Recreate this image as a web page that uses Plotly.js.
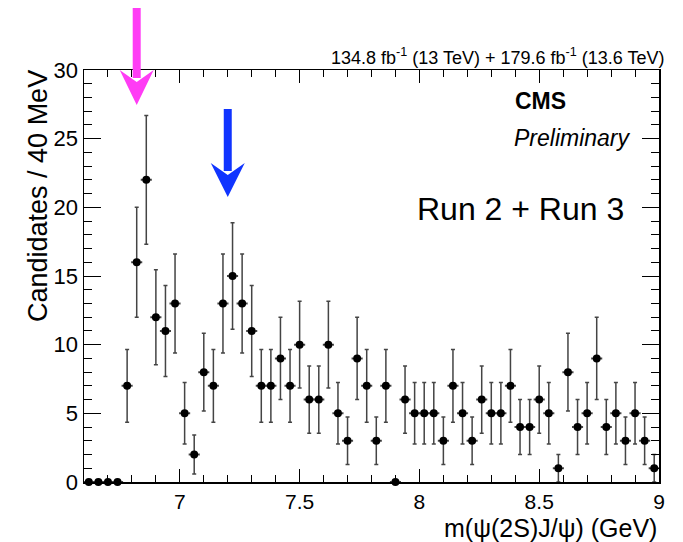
<!DOCTYPE html>
<html>
<head>
<meta charset="utf-8">
<script src="https://cdn.plot.ly/plotly-3.0.1.min.js"></script>
<style>html,body{margin:0;padding:0;background:#fff;}#chart{width:683px;height:542px;}</style>
</head>
<body>
<div id="chart"></div>
<script>
// Bin centres (GeV), 40 MeV bins from 6.60 to 9.00
var massBins = [6.62,6.66,6.70,6.74,6.78,6.82,6.86,6.90,6.94,6.98,
                7.02,7.06,7.10,7.14,7.18,7.22,7.26,7.30,7.34,7.38,
                7.42,7.46,7.50,7.54,7.58,7.62,7.66,7.70,7.74,7.78,
                7.82,7.86,7.90,7.94,7.98,8.02,8.06,8.10,8.14,8.18,
                8.22,8.26,8.30,8.34,8.38,8.42,8.46,8.50,8.54,8.58,
                8.62,8.66,8.70,8.74,8.78,8.82,8.86,8.90,8.94,8.98];
// Candidates per bin
var candidates = [0,0,0,0,7,16,22,12,11,13,
                  5,2,8,7,13,15,13,11,7,7,
                  9,7,10,6,6,10,5,3,9,7,
                  3,7,0,6,5,5,5,3,7,5,
                  3,6,5,5,7,4,4,6,5,1,
                  8,4,5,9,4,5,3,5,3,1];
var binHalfWidth = 0.02;
var xTickVals = [7, 7.5, 8, 8.5, 9];
var xTickText = ["7", "7.5", "8", "8.5", "9"];
var yTickVals = [0, 5, 10, 15, 20, 25, 30];
var yTickText = ["0", "5", "10", "15", "20", "25", "30"];
var arrowMasses = [6.82, 7.2];

var FONT = "Liberation Sans, Arial, Helvetica, sans-serif";
var xr = [6.6, 9.0];
function px(m){ return (m - xr[0]) / (xr[1] - xr[0]); }
// plot area: top 70, bottom 482 -> height 412
function py(p){ return (482 - p) / 412; }

function arrowShapes(m, color, yTop, yHeadTop, yTip, halfHead, halfShaft){
  var cx = px(m);
  var s = 1/575; // paper units per px in x
  var shaft = {type:'rect', xref:'paper', yref:'paper', layer:'above',
    x0: cx - halfShaft*s, x1: cx + halfShaft*s, y0: py(yHeadTop+8), y1: py(yTop),
    fillcolor: color, line:{width:0}};
  var head = {type:'path', xref:'paper', yref:'paper', layer:'above',
    path: 'M ' + (cx - halfHead*s) + ' ' + py(yHeadTop) +
          ' L ' + cx + ' ' + py(yHeadTop+12) +
          ' L ' + (cx + halfHead*s) + ' ' + py(yHeadTop) +
          ' L ' + cx + ' ' + py(yTip) + ' Z',
    fillcolor: color, line:{width:0}};
  return [shaft, head];
}

var trace = {
  x: massBins, y: candidates, type: 'scatter', mode: 'markers',
  marker: {color: '#000', size: 8},
  cliponaxis: false,
  error_y: {type: 'sqrt', color: '#444', thickness: 1.5, width: 2},
  error_x: {type: 'constant', value: binHalfWidth, color: '#444', thickness: 1.5, width: 1},
  hoverinfo: 'x+y', showlegend: false
};

var shapes = [].concat(
  arrowShapes(arrowMasses[0], '#ff3cf5', 8, 70, 105, 17, 4),
  arrowShapes(arrowMasses[1], '#1034ff', 109, 163, 197, 17, 4)
);

var layout = {
  width: 683, height: 542,
  margin: {l: 84, r: 24, t: 70, b: 60},
  paper_bgcolor: '#fff', plot_bgcolor: '#fff',
  font: {family: FONT, color: '#000', size: 22},
  showlegend: false,
  xaxis: {
    range: xr, showgrid: false, zeroline: false,
    showline: true, linecolor: '#000', linewidth: 1.5, mirror: 'ticks',
    ticks: 'inside', ticklen: 13, tickwidth: 1, tickcolor: '#000',
    tickvals: xTickVals, ticktext: xTickText,
    tickfont: {family: FONT, size: 21, color: '#000'},
    minor: {dtick: 0.1, tick0: 0, ticks: 'inside', ticklen: 7, tickwidth: 1, tickcolor: '#000', showgrid: false}
  },
  yaxis: {
    range: [0, 30], showgrid: false, zeroline: false,
    showline: true, linecolor: '#000', linewidth: 1.5, mirror: 'ticks',
    ticks: 'inside', ticklen: 17, tickwidth: 1, tickcolor: '#000',
    tickvals: yTickVals, ticktext: yTickText,
    tickfont: {family: FONT, size: 22, color: '#000'},
    minor: {dtick: 1, tick0: 0, ticks: 'inside', ticklen: 8, tickwidth: 1, tickcolor: '#000', showgrid: false}
  },
  shapes: shapes,
  annotations: [
    {xref:'paper', yref:'paper', x: (666-84)/575, y: py(57), xanchor:'right', yanchor:'middle', showarrow:false,
     text: '134.8 fb<sup>-1</sup> (13 TeV) + 179.6 fb<sup>-1</sup> (13.6 TeV)', font:{family:FONT, size:18}},
    {xref:'paper', yref:'paper', x: (513-84)/575, y: py(101), xanchor:'left', yanchor:'middle', showarrow:false,
     text: '<b>CMS</b>', font:{family:FONT, size:23}},
    {xref:'paper', yref:'paper', x: (512-84)/575, y: py(138), xanchor:'left', yanchor:'middle', showarrow:false,
     text: '<i>Preliminary</i>', font:{family:FONT, size:23}},
    {xref:'paper', yref:'paper', x: (415-84)/575, y: py(209), xanchor:'left', yanchor:'middle', showarrow:false,
     text: 'Run 2 + Run 3', font:{family:FONT, size:32}},
    {xref:'paper', yref:'paper', x: 1, y: py(528), xanchor:'right', yanchor:'middle', showarrow:false,
     text: 'm(ψ(2S)J/ψ) (GeV)', font:{family:FONT, size:25}},
    {xref:'paper', yref:'paper', x: (38-84)/575, y: py(196), xanchor:'center', yanchor:'middle', showarrow:false,
     textangle: -90, text: 'Candidates / 40 MeV', font:{family:FONT, size:27}}
  ]
};

Plotly.newPlot('chart', [trace], layout, {staticPlot: true, displayModeBar: false});
</script>
</body>
</html>
